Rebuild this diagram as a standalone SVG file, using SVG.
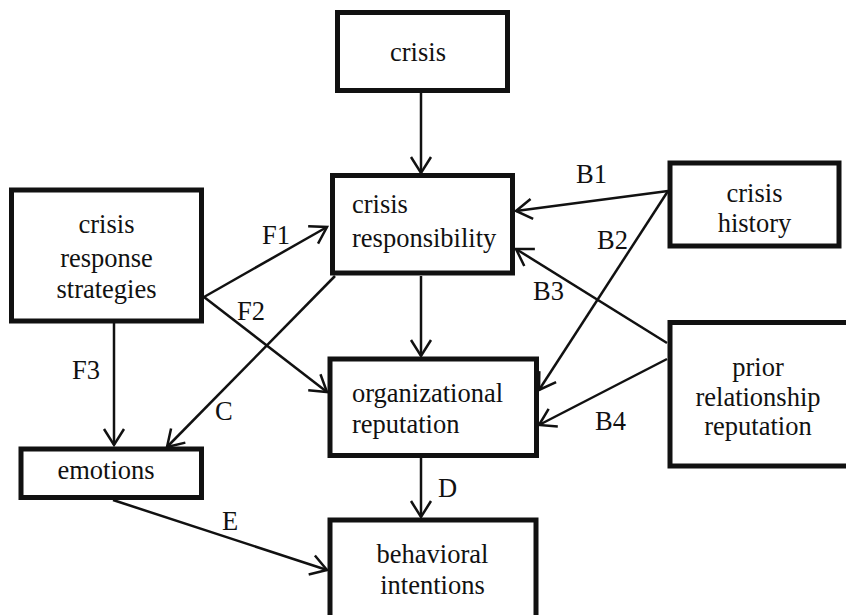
<svg xmlns="http://www.w3.org/2000/svg" width="846" height="615" viewBox="0 0 846 615" font-family="Liberation Serif, Times New Roman, serif">
<defs>
<style>
.box{fill:#fff;stroke:#111;stroke-width:5}
.t{font-size:26.5px;fill:#111}
.c{text-anchor:middle}
.ln{fill:none;stroke:#111;stroke-width:2.5}
.lb{font-size:26.5px;fill:#111}
</style>
<marker id="ah" markerUnits="userSpaceOnUse" markerWidth="22" markerHeight="26" refX="18" refY="12" orient="auto" viewBox="0 0 22 24">
<path d="M2,2 L18,12 L2,22" fill="none" stroke="#111" stroke-width="2.5"/>
</marker>
</defs>
<rect width="846" height="615" fill="#fff"/>
<g id="connectors">
<line class="ln" x1="421" y1="93" x2="421" y2="173" marker-end="url(#ah)"/>
<line class="ln" x1="421" y1="276" x2="421" y2="356" marker-end="url(#ah)"/>
<line class="ln" x1="421" y1="458" x2="421" y2="517" marker-end="url(#ah)"/>
<line class="ln" x1="204" y1="297" x2="327" y2="227" marker-end="url(#ah)"/>
<line class="ln" x1="204" y1="297" x2="327" y2="392" marker-end="url(#ah)"/>
<line class="ln" x1="335" y1="276" x2="167" y2="447" marker-end="url(#ah)"/>
<line class="ln" x1="114" y1="323" x2="114" y2="445" marker-end="url(#ah)"/>
<line class="ln" x1="113" y1="500" x2="327" y2="570" marker-end="url(#ah)"/>
<line class="ln" x1="668" y1="191" x2="516" y2="211" marker-end="url(#ah)"/>
<line class="ln" x1="668" y1="191" x2="539" y2="390" marker-end="url(#ah)"/>
<line class="ln" x1="667" y1="343" x2="516" y2="249" marker-end="url(#ah)"/>
<line class="ln" x1="667" y1="359" x2="539" y2="425" marker-end="url(#ah)"/>
<text class="lb" x="262" y="244">F1</text>
<text class="lb" x="237" y="320">F2</text>
<text class="lb" x="72" y="379">F3</text>
<text class="lb" x="215" y="420">C</text>
<text class="lb" x="222" y="530">E</text>
<text class="lb" x="438" y="497">D</text>
<text class="lb" x="576" y="183">B1</text>
<text class="lb" x="597" y="249">B2</text>
<text class="lb" x="533" y="300">B3</text>
<text class="lb" x="595" y="430">B4</text>
</g>
<g id="crisis">
<rect class="box" x="337.5" y="12.5" width="170" height="78"/>
<text class="t c" x="418" y="61">crisis</text>
</g>
<g id="crisis-responsibility">
<rect class="box" x="332.5" y="175.5" width="180" height="97.5"/>
<text class="t" x="352" y="213">crisis</text>
<text class="t" x="352" y="246.5">responsibility</text>
</g>
<g id="crisis-response-strategies">
<rect class="box" x="11.5" y="190" width="190" height="131"/>
<text class="t c" x="106.5" y="233">crisis</text>
<text class="t c" x="106.5" y="266.5">response</text>
<text class="t c" x="106.5" y="297.5">strategies</text>
</g>
<g id="emotions">
<rect class="box" x="21" y="449" width="180.5" height="48.5"/>
<text class="t c" x="106" y="479">emotions</text>
</g>
<g id="organizational-reputation">
<rect class="box" x="330" y="359" width="206.5" height="96.5"/>
<text class="t" x="352" y="401.5">organizational</text>
<text class="t" x="352" y="432.5">reputation</text>
</g>
<g id="behavioral-intentions">
<rect class="box" x="330" y="520" width="206" height="100"/>
<text class="t c" x="432.5" y="562.5">behavioral</text>
<text class="t c" x="432.5" y="593.5">intentions</text>
</g>
<g id="crisis-history">
<rect class="box" x="670" y="163" width="169" height="83"/>
<text class="t c" x="754.5" y="202">crisis</text>
<text class="t c" x="754.5" y="232">history</text>
</g>
<g id="prior-relationship-reputation">
<rect class="box" x="670" y="322.5" width="180" height="143.5"/>
<text class="t c" x="758" y="376">prior</text>
<text class="t c" x="758" y="405.5">relationship</text>
<text class="t c" x="758" y="435">reputation</text>
</g>
</svg>
